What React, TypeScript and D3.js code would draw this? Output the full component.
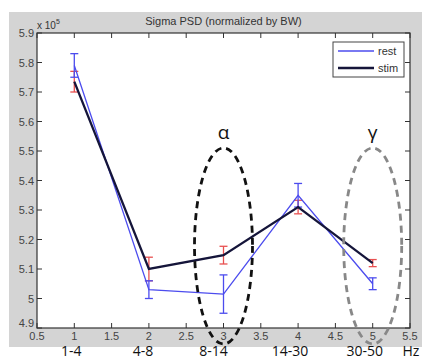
import React from 'react';
import * as d3 from 'd3';

const bandX = [1, 2, 3, 4, 5];
const bandLabels = ['1-4', '4-8', '8-14', '14-30', '30-50'];
const restMean = [5.79, 5.03, 5.015, 5.35, 5.05];
const restErr = [0.04, 0.03, 0.065, 0.04, 0.02];
const stimMean = [5.735, 5.1, 5.147, 5.31, 5.12];
const stimErr = [0.035, 0.04, 0.03, 0.023, 0.012];
const xTicks = [0.5, 1, 1.5, 2, 2.5, 3, 3.5, 4, 4.5, 5, 5.5];
const yTicks = [4.9, 5, 5.1, 5.2, 5.3, 5.4, 5.5, 5.6, 5.7, 5.8, 5.9];
const highlights = [
  { x: 3, label: 'α', color: '#111' },
  { x: 5, label: 'γ', color: '#888' },
];

const W = 422, H = 360;
const L = 37, R = 410, T = 33, B = 328;

export default function App() {
  const x = d3.scaleLinear().domain([0.5, 5.5]).range([L, R]);
  const y = d3.scaleLinear().domain([4.9, 5.9]).range([B, T]);
  const line = d3.line<number>().x((_, i) => x(bandX[i])).y(d => y(d));
  const fmtY = (v: number) => (Math.abs(v - 5) < 1e-9 ? '5' : v.toFixed(1));
  const fmtX = (v: number) => (Number.isInteger(v) ? String(v) : v.toFixed(1));
  const axisFont = '"Liberation Sans", Arial, sans-serif';
  const calFont = '"Open Sans", "Noto Sans", sans-serif';
  const restColor = '#4c4cee';
  const stimColor = '#15153a';
  const errRed = '#e85050';
  const labelShift = [-3, -6, -10, -8, -8];

  const errBars = (means: number[], errs: number[], color: string, w: number) =>
    means.map((m, i) => {
      const cx = x(bandX[i]);
      const y1 = y(m + errs[i]);
      const y2 = y(m - errs[i]);
      return (
        <g key={i} stroke={color} strokeWidth={w} fill="none">
          <line x1={cx} x2={cx} y1={y1} y2={y2} />
          <line x1={cx - 4} x2={cx + 4} y1={y1} y2={y1} />
          <line x1={cx - 4} x2={cx + 4} y1={y2} y2={y2} />
        </g>
      );
    });

  const tickLen = 5;
  return (
    <svg width={W} height={H} style={{ position: 'absolute', left: 0, top: 0, background: '#fff' }}>
      <rect x={9} y={12} width={W - 9} height={347 - 12} fill="#d4d4d4" />
      <rect x={L} y={T} width={R - L} height={B - T} fill="#fff" />
      <text x={(L + R) / 2} y={25} textAnchor="middle" fontFamily={axisFont} fontSize={11} fill="#333">
        Sigma PSD (normalized by BW)
      </text>
      <text x={37} y={29} fontFamily={axisFont} fontSize={10} fill="#333">
        x 10<tspan dy={-5} fontSize={7}>5</tspan>
      </text>

      {/* ticks */}
      {xTicks.map(t => (
        <g key={'xt' + t} stroke="#333" strokeWidth={1}>
          <line x1={x(t)} x2={x(t)} y1={B} y2={B - tickLen} />
          <line x1={x(t)} x2={x(t)} y1={T} y2={T + tickLen} />
        </g>
      ))}
      {yTicks.map(t => (
        <g key={'yt' + t} stroke="#333" strokeWidth={1}>
          <line x1={L} x2={L + tickLen} y1={y(t)} y2={y(t)} />
          <line x1={R} x2={R - tickLen} y1={y(t)} y2={y(t)} />
        </g>
      ))}
      <rect x={L} y={T} width={R - L} height={B - T} fill="none" stroke="#333" strokeWidth={1.2} />
      {xTicks.map(t => (
        <text key={'xl' + t} x={x(t)} y={B + 12} textAnchor="middle" fontFamily={axisFont} fontSize={11} fill="#444">
          {fmtX(t)}
        </text>
      ))}
      {yTicks.map((t, i) => (
        <text key={'yl' + t} x={L - 3} y={y(t) + 4 - (i === 0 ? 5 : 0)} textAnchor="end" fontFamily={axisFont} fontSize={11} fill="#444">
          {fmtY(t)}
        </text>
      ))}

      {/* series */}
      {errBars(stimMean, stimErr, errRed, 1.3)}
      {errBars(restMean, restErr, restColor, 1.3)}
      <path d={line(restMean) || ''} fill="none" stroke={restColor} strokeWidth={1.3} />
      <path d={line(stimMean) || ''} fill="none" stroke={stimColor} strokeWidth={2.3} />

      {/* legend */}
      <rect x={333} y={42} width={71} height={35} fill="#fff" stroke="#444" strokeWidth={1} />
      <line x1={338} x2={374} y1={51} y2={51} stroke={restColor} strokeWidth={1.3} />
      <text x={378} y={55} fontFamily={axisFont} fontSize={11} fill="#333">rest</text>
      <line x1={338} x2={374} y1={68} y2={68} stroke={stimColor} strokeWidth={2.3} />
      <text x={378} y={72} fontFamily={axisFont} fontSize={11} fill="#333">stim</text>

      {/* highlight ellipses */}
      {highlights.map(h => (
        <g key={h.label}>
          <ellipse cx={x(h.x)} cy={y(5.178)} rx={29} ry={98} fill="none" stroke={h.color}
            strokeWidth={2.8} strokeDasharray="7,5" />
          <text x={x(h.x)} y={139} textAnchor="middle" fontFamily={calFont} fontSize={19} fill="#111">
            {h.label}
          </text>
        </g>
      ))}

      {/* band labels */}
      {bandLabels.map((b, i) => (
        <text key={b} x={x(bandX[i]) + labelShift[i]} y={356} textAnchor="middle"
          fontFamily={calFont} fontSize={14} fill="#111">
          {b}
        </text>
      ))}
      <text x={411} y={356} textAnchor="middle" fontFamily={calFont} fontSize={14} fill="#111">Hz</text>
    </svg>
  );
}
